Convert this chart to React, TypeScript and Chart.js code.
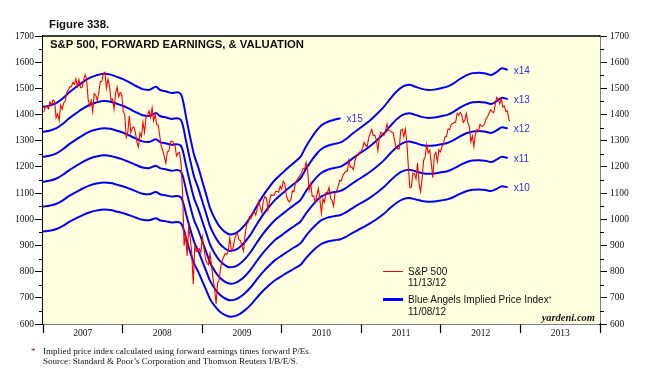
import { useEffect, useRef } from 'react';
import { Chart, registerables } from 'chart.js';

Chart.register(...registerables);

// ---------------- DATA ----------------
// S&P 500, weekly (Fridays) starting 2007-01-05, plus the last daily close
const spxStart = '2007-01-05';
const spxWeekly = [
  // 2007
  1409.7, 1430.7, 1430.5, 1422.2, 1448.4, 1438.1, 1455.5, 1451.2, 1387.2, 1402.8, 1378.0, 1436.1, 1420.9,
  1443.8, 1452.9, 1484.4, 1494.1, 1505.6, 1505.9, 1522.8, 1515.7, 1536.3, 1507.7, 1532.9, 1502.6, 1503.4,
  1530.4, 1552.5, 1534.1, 1458.9, 1433.1, 1453.6, 1411.0, 1479.4, 1473.9, 1453.6, 1484.3, 1525.8, 1526.8,
  1557.6, 1561.8, 1500.6, 1535.3, 1509.7, 1453.7, 1458.7, 1420.7, 1481.1, 1504.7, 1467.9, 1484.5, 1478.5,
  // 2008
  1411.6, 1401.0, 1312.2, 1330.6, 1395.4, 1331.3, 1349.0, 1353.1, 1330.6, 1293.4, 1276.1, 1329.5, 1315.2,
  1370.4, 1332.8, 1390.3, 1397.8, 1413.9, 1388.3, 1425.4, 1375.9, 1400.4, 1360.7, 1360.0, 1317.9, 1278.4,
  1262.9, 1239.5, 1215.0, 1257.8, 1260.3, 1296.3, 1298.2, 1292.2, 1282.8, 1242.3, 1251.7, 1255.1, 1213.3,
  1099.2, 899.2, 940.6, 860.0, 968.8, 931.0, 873.3, 752.4, 896.2, 876.1, 879.7, 887.9, 872.8,
  // 2009
  931.8, 890.4, 850.1, 831.9, 825.9, 868.6, 826.8, 770.1, 735.1, 676.5, 756.6, 768.5, 815.9,
  842.5, 856.6, 869.6, 866.2, 877.5, 929.2, 882.9, 887.0, 919.1, 940.1, 946.2, 921.2, 918.9,
  896.4, 879.1, 940.4, 979.3, 987.5, 1010.5, 1004.1, 1026.1, 1028.9, 1016.4, 1042.7, 1068.3, 1044.4,
  1025.2, 1071.5, 1087.7, 1079.6, 1036.2, 1069.3, 1093.5, 1091.4, 1091.5, 1106.0, 1106.4, 1102.5, 1126.5,
  1115.1,
  // 2010
  1145.0, 1136.0, 1091.8, 1073.9, 1066.2, 1075.5, 1109.2, 1104.5, 1138.7, 1150.0, 1159.9, 1166.6, 1178.1,
  1194.4, 1192.1, 1217.3, 1186.7, 1110.9, 1135.7, 1087.7, 1089.4, 1064.9, 1091.6, 1117.5, 1076.8, 1022.6,
  1078.0, 1064.9, 1102.7, 1101.6, 1121.6, 1079.3, 1071.7, 1050.0, 1104.5, 1109.6, 1125.6, 1148.7, 1146.2,
  1165.2, 1176.2, 1183.1, 1183.3, 1225.9, 1199.2, 1199.7, 1189.4, 1224.7, 1240.4, 1243.9, 1256.8, 1257.6,
  // 2011
  1271.5, 1293.2, 1283.4, 1276.3, 1310.9, 1329.2, 1343.0, 1320.0, 1321.2, 1304.3, 1262.0, 1313.8, 1332.4,
  1328.2, 1319.7, 1337.4, 1363.6, 1340.2, 1337.8, 1333.3, 1331.1, 1300.2, 1271.0, 1271.5, 1268.5, 1339.7,
  1343.8, 1316.1, 1345.0, 1292.3, 1199.4, 1120.0, 1123.5, 1176.8, 1174.0, 1154.2, 1216.0, 1136.4, 1105.0,
  1155.5, 1224.6, 1238.3, 1285.1, 1253.2, 1263.9, 1215.7, 1158.7, 1244.3, 1255.2, 1219.7, 1265.3, 1257.6,
  // 2012
  1277.8, 1289.1, 1315.4, 1316.3, 1344.9, 1342.6, 1361.2, 1365.7, 1370.0, 1370.9, 1404.2, 1397.1, 1408.5,
  1398.1, 1370.3, 1378.5, 1403.4, 1369.1, 1353.4, 1295.2, 1317.8, 1278.0, 1325.7, 1342.8, 1335.0, 1362.2,
  1354.7, 1356.8, 1362.7, 1386.0, 1391.0, 1405.9, 1418.2, 1411.1, 1406.6, 1437.9, 1465.8, 1460.2, 1440.7,
  1460.9, 1428.6, 1433.2, 1411.9, 1414.2, 1379.9,
];
const spxLastDate = '2012-11-13';
const spxLastValue = 1374.4;

// Forward earnings (decimal year, $/share) — the implied price index is earnings x multiple
const earningsYears = [
  2007.00, 2007.08, 2007.17, 2007.25, 2007.33, 2007.42, 2007.50, 2007.58, 2007.67, 2007.77, 2007.85, 2007.92,
  2008.00, 2008.08, 2008.17, 2008.25, 2008.33, 2008.42, 2008.47, 2008.55, 2008.62, 2008.68, 2008.73, 2008.76,
  2008.80, 2008.85, 2008.90, 2008.95, 2009.00, 2009.05, 2009.10, 2009.16, 2009.22, 2009.29, 2009.35, 2009.41,
  2009.47, 2009.54, 2009.61, 2009.68, 2009.76, 2009.84, 2009.92, 2010.00, 2010.08, 2010.16, 2010.24, 2010.30,
  2010.37, 2010.44, 2010.50, 2010.58, 2010.66, 2010.74, 2010.80, 2010.88, 2010.95, 2011.04, 2011.12, 2011.20,
  2011.28, 2011.36, 2011.44, 2011.52, 2011.60, 2011.68, 2011.76, 2011.84, 2011.92, 2012.00, 2012.08, 2012.16,
  2012.24, 2012.32, 2012.40, 2012.48, 2012.56, 2012.63, 2012.70, 2012.77, 2012.84,
];
const forwardEarnings = [
  95.3, 95.6, 96.3, 97.5, 99.0, 100.4, 101.6, 102.6, 103.3, 103.7, 103.5, 103.0,
  102.4, 101.6, 100.6, 99.8, 99.6, 100.4, 99.6, 99.2, 98.8, 99.0, 98.6, 96.8,
  92.5, 87.5, 83.0, 80.0, 76.5, 73.0, 69.5, 66.8, 64.8, 63.4, 62.8, 63.0,
  63.8, 65.3, 67.3, 69.8, 72.5, 74.8, 76.8, 78.3, 79.8, 81.2, 82.7, 85.0,
  87.3, 89.3, 90.6, 91.5, 92.0, 92.4, 93.2, 94.6, 95.8, 97.2, 98.6, 100.2,
  102.0, 104.2, 106.2, 107.6, 108.1, 107.6, 107.0, 106.7, 106.8, 107.2, 107.6, 108.5,
  109.7, 110.7, 111.3, 111.4, 111.2, 110.8, 111.6, 112.6, 112.2,
];
const multiples = [10, 11, 12, 13, 14, 15];
const multipleLabels = ['x10', 'x11', 'x12', 'x13', 'x14', 'x15'];
const x15LastYear = 2010.78;

const yearLabels = ['2007', '2008', '2009', '2010', '2011', '2012', '2013'];
const yMajorTicks = [600, 700, 800, 900, 1000, 1100, 1200, 1300, 1400, 1500, 1600, 1700];
const yMinorTicks = [650, 750, 850, 950, 1050, 1150, 1250, 1350, 1450, 1550, 1650];

// ---------------- HELPERS ----------------
function decimalYear(ms: number) {
  const d = new Date(ms);
  const y = d.getUTCFullYear();
  const s = Date.UTC(y, 0, 1);
  const e = Date.UTC(y + 1, 0, 1);
  return y + (ms - s) / (e - s);
}

const BG = '#FFFFE0';
const BLUE = '#0000FF';
const RED = '#FF0000';
const LABEL_BLUE = '#3030E8';

export default function App() {
  const canvasRef = useRef<HTMLCanvasElement | null>(null);

  useEffect(() => {
    if (!canvasRef.current) return;
    const startMs = Date.parse(spxStart + 'T00:00:00Z');
    const spxData = spxWeekly.map((v, i) => ({ x: decimalYear(startMs + i * 7 * 86400000), y: v }));
    spxData.push({ x: decimalYear(Date.parse(spxLastDate + 'T00:00:00Z')), y: spxLastValue });

    const blueSets = multiples.map((m, k) => {
      const pts = earningsYears
        .map((t, i) => ({ x: t, y: forwardEarnings[i] * m }))
        .filter((p) => m !== 15 || p.x <= x15LastYear + 1e-9);
      return {
        label: multipleLabels[k],
        endLabel: multipleLabels[k],
        data: pts,
        borderColor: BLUE,
        borderWidth: 2,
        pointRadius: 0,
        cubicInterpolationMode: 'monotone',
        fill: false,
      } as any;
    });

    const tickYears: number[] = [];
    for (let y = 2007; y <= 2014; y += 0.5) tickYears.push(y);

    const bgPlugin = {
      id: 'bgPlugin',
      beforeDatasetsDraw(chart: any) {
        const { ctx, chartArea: a } = chart;
        ctx.save();
        ctx.fillStyle = BG;
        ctx.fillRect(a.left, a.top, a.right - a.left, a.bottom - a.top);
        ctx.restore();
      },
      afterDraw(chart: any) {
        const { ctx, chartArea: a, scales } = chart;
        ctx.save();
        ctx.strokeStyle = '#000';
        ctx.lineWidth = 1.5;
        ctx.beginPath();
        ctx.moveTo(a.left, a.top);
        ctx.lineTo(a.right, a.top);
        ctx.stroke();
        ctx.lineWidth = 1;
        for (const v of yMinorTicks) {
          const y = Math.round(scales.y.getPixelForValue(v)) + 0.5;
          ctx.beginPath();
          ctx.moveTo(a.left - 4, y);
          ctx.lineTo(a.left, y);
          ctx.moveTo(a.right, y);
          ctx.lineTo(a.right + 4, y);
          ctx.stroke();
        }
        ctx.restore();
      },
    };

    const endLabelPlugin = {
      id: 'endLabelPlugin',
      afterDatasetsDraw(chart: any) {
        const { ctx } = chart;
        ctx.save();
        ctx.fillStyle = LABEL_BLUE;
        ctx.font = '10px "Liberation Sans", Arial, sans-serif';
        ctx.textBaseline = 'middle';
        chart.data.datasets.forEach((ds: any, i: number) => {
          if (!ds.endLabel) return;
          const meta = chart.getDatasetMeta(i);
          const last = meta.data[meta.data.length - 1];
          if (!last) return;
          ctx.fillText(ds.endLabel, last.x + 6, last.y + 1);
        });
        ctx.restore();
      },
    };

    const tickFont = { family: '"Liberation Serif", "Times New Roman", serif', size: 9.5 };

    const chart = new Chart(canvasRef.current, {
      type: 'line',
      data: {
        datasets: [
          {
            label: 'S&P 500',
            data: spxData,
            borderColor: RED,
            borderWidth: 1.1,
            pointRadius: 0,
            tension: 0,
            fill: false,
          } as any,
          ...blueSets,
        ],
      },
      options: {
        responsive: false,
        maintainAspectRatio: false,
        animation: false,
        devicePixelRatio: 1,
        layout: { padding: { top: 36, left: 0, right: 0, bottom: 0 } },
        plugins: {
          legend: { display: false },
          tooltip: { enabled: false },
          title: { display: false },
        },
        scales: {
          x: {
            type: 'linear',
            position: 'bottom',
            min: 2007,
            max: 2014,
            afterBuildTicks: (s: any) => {
              s.ticks = tickYears.map((v) => ({ value: v }));
            },
            afterFit: (s: any) => {
              s.height = 61;
            },
            ticks: {
              autoSkip: false,
              maxRotation: 0,
              minRotation: 0,
              padding: -5,
              color: '#111',
              font: tickFont,
              callback: (v: any) => {
                const n = Number(v);
                const frac = n - Math.floor(n);
                if (Math.abs(frac - 0.5) < 1e-6) {
                  const idx = Math.floor(n) - 2007;
                  return yearLabels[idx] ?? '';
                }
                return '';
              },
            },
            grid: {
              drawOnChartArea: false,
              tickLength: 9,
              tickWidth: 1.2,
              tickColor: (ctx: any) => {
                const v = ctx.tick ? ctx.tick.value : 0;
                return Math.abs(v - Math.round(v)) < 1e-6 ? '#000' : 'rgba(0,0,0,0)';
              },
            },
            border: { display: true, color: '#000', width: 1.5 },
          },
          y: {
            type: 'linear',
            position: 'left',
            min: 600,
            max: 1700,
            afterBuildTicks: (s: any) => {
              s.ticks = yMajorTicks.map((v) => ({ value: v }));
            },
            afterFit: (s: any) => {
              s.width = 43;
            },
            ticks: { padding: 1, color: '#111', font: tickFont, callback: (v: any) => String(v) },
            grid: { drawOnChartArea: false, tickLength: 8, tickColor: '#000', tickWidth: 1 },
            border: { display: true, color: '#000', width: 1.5 },
          },
          y2: {
            type: 'linear',
            position: 'right',
            min: 600,
            max: 1700,
            afterBuildTicks: (s: any) => {
              s.ticks = yMajorTicks.map((v) => ({ value: v }));
            },
            afterFit: (s: any) => {
              s.width = 55;
            },
            ticks: { padding: 3, color: '#111', font: tickFont, callback: (v: any) => String(v) },
            grid: { drawOnChartArea: false, tickLength: 7, tickColor: '#000', tickWidth: 1 },
            border: { display: true, color: '#000', width: 1.5 },
          },
        },
      } as any,
      plugins: [bgPlugin, endLabelPlugin],
    });
    return () => chart.destroy();
  }, []);

  const sans = '"Liberation Sans", Arial, Helvetica, sans-serif';
  const serif = '"Liberation Serif", "Times New Roman", serif';
  const abs = (o: any) => ({ position: 'absolute', whiteSpace: 'nowrap', lineHeight: 1, ...o });

  return (
    <div style={{ position: 'fixed', left: 0, top: 0, width: 655, height: 385, background: '#fff', overflow: 'hidden' }}>
      <canvas ref={canvasRef} width={655} height={385} style={{ position: 'absolute', left: 0, top: 0, width: 655, height: 385 }} />
      <div style={abs({ left: 49, top: 19, fontFamily: sans, fontWeight: 'bold', fontSize: 11.4, color: '#111' })}>Figure 338.</div>
      <div style={abs({ left: 50, top: 39, fontFamily: sans, fontWeight: 'bold', fontSize: 11.3, color: '#111' })}>
        S&amp;P 500, FORWARD EARNINGS, &amp; VALUATION
      </div>
      {/* legend */}
      <div style={abs({ left: 383, top: 271, width: 20, height: 1, background: RED })} />
      <div style={abs({ left: 408, top: 267, fontFamily: sans, fontSize: 10, color: '#111' })}>S&amp;P 500</div>
      <div style={abs({ left: 408, top: 278, fontFamily: sans, fontSize: 10, color: '#111' })}>11/13/12</div>
      <div style={abs({ left: 383, top: 298, width: 20, height: 3, background: BLUE })} />
      <div style={abs({ left: 408, top: 295, fontFamily: sans, fontSize: 10, color: '#111' })}>
        Blue Angels Implied Price Index<span style={{ fontSize: 7, verticalAlign: 'top' }}>*</span>
      </div>
      <div style={abs({ left: 408, top: 307, fontFamily: sans, fontSize: 10, color: '#111' })}>11/08/12</div>
      <div style={abs({ right: 60, top: 313, fontFamily: serif, fontWeight: 'bold', fontStyle: 'italic', fontSize: 10.5, color: '#111' })}>
        yardeni.com
      </div>
      {/* footnotes */}
      <div style={abs({ left: 31, top: 347, fontFamily: serif, fontSize: 9, color: '#B00000' })}>*</div>
      <div style={abs({ left: 43, top: 347, fontFamily: serif, fontSize: 9, color: '#111' })}>
        Implied price index calculated using forward earnings times forward P/Es.
      </div>
      <div style={abs({ left: 43, top: 357, fontFamily: serif, fontSize: 9, color: '#111' })}>
        Source: Standard &amp; Poor’s Corporation and Thomson Reuters I/B/E/S.
      </div>
    </div>
  );
}
